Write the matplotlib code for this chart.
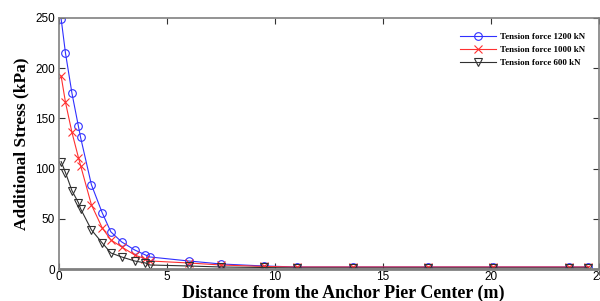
import matplotlib
matplotlib.use("Agg")
import matplotlib.pyplot as plt

distance = [0.1, 0.3, 0.6, 0.9, 1.0, 1.5, 2.0, 2.4, 2.9, 3.5, 4.0, 4.2, 6.0, 7.5,
            9.5, 11.0, 13.6, 17.1, 20.1, 23.6, 24.5]
stress_1200 = [249, 215, 175, 142, 131, 84, 56, 37, 27, 19, 14, 12, 8, 5,
               3, 2, 2, 2, 2, 2, 2]
stress_1000 = [192, 166, 136, 111, 103, 64, 41, 29, 22, 14, 10, 8, 6, 4,
               2.5, 2, 2, 2, 2, 2, 2]
stress_600 = [107, 96, 78, 66, 60, 39, 26, 16, 12, 8, 6, 4, 3, 2,
              1.5, 1, 1, 1, 1, 1, 1]
labels = ["Tension force 1200 kN", "Tension force 1000 kN", "Tension force 600 kN"]
x_ticks = [0, 5, 10, 15, 20, 25]
y_ticks = [0, 50, 100, 150, 200, 250]

fig = plt.figure(figsize=(6.0, 3.01), dpi=100)
ax = fig.add_axes([59/600, 1 - 269/301, 540/600, 251/301])

ax.plot(distance, stress_1200, color="#3030ff", lw=0.8, marker="o", ms=5.5,
        mfc="none", mec="#3030ff", mew=0.8, label=labels[0])
ax.plot(distance, stress_1000, color="#ff3030", lw=0.8, marker="x", ms=5.5,
        mec="#ff3030", mew=0.8, label=labels[1])
ax.plot(distance, stress_600, color="#303030", lw=0.8, marker="v", ms=5.5,
        mfc="none", mec="#303030", mew=0.8, label=labels[2])

ax.set_xlim(0, 25)
ax.set_ylim(0, 250)
ax.set_xticks(x_ticks)
ax.set_yticks(y_ticks)
ax.tick_params(direction="in", top=True, right=True, length=4, width=0.8,
               labelsize=8.5, colors="#333333", pad=3)
ax.tick_params(axis="x", pad=1.5)
for lab in ax.get_xticklabels() + ax.get_yticklabels():
    lab.set_fontfamily("Liberation Sans")
    lab.set_color("black")
for s in ax.spines.values():
    s.set_color("#808080")
    s.set_linewidth(1.2)
ax.spines["bottom"].set_linewidth(2)

ax.set_xlabel("Distance from the Anchor Pier Center (m)", fontfamily="Liberation Serif",
              fontweight="bold", fontsize=13, va="center")
ax.xaxis.set_label_coords((343.5 - 59) / 540, (269 - 293.5) / 251)
ax.set_ylabel("Additional Stress (kPa)", fontfamily="Liberation Serif",
              fontweight="bold", fontsize=12.5, labelpad=4)

leg = ax.legend(loc="upper right", bbox_to_anchor=(0.99, 0.975), frameon=False,
                prop={"family": "Liberation Serif", "weight": "bold", "size": 6.5},
                handlelength=4.0, labelspacing=0.55, handletextpad=0.5)

fig.savefig("out.png", dpi=100)
